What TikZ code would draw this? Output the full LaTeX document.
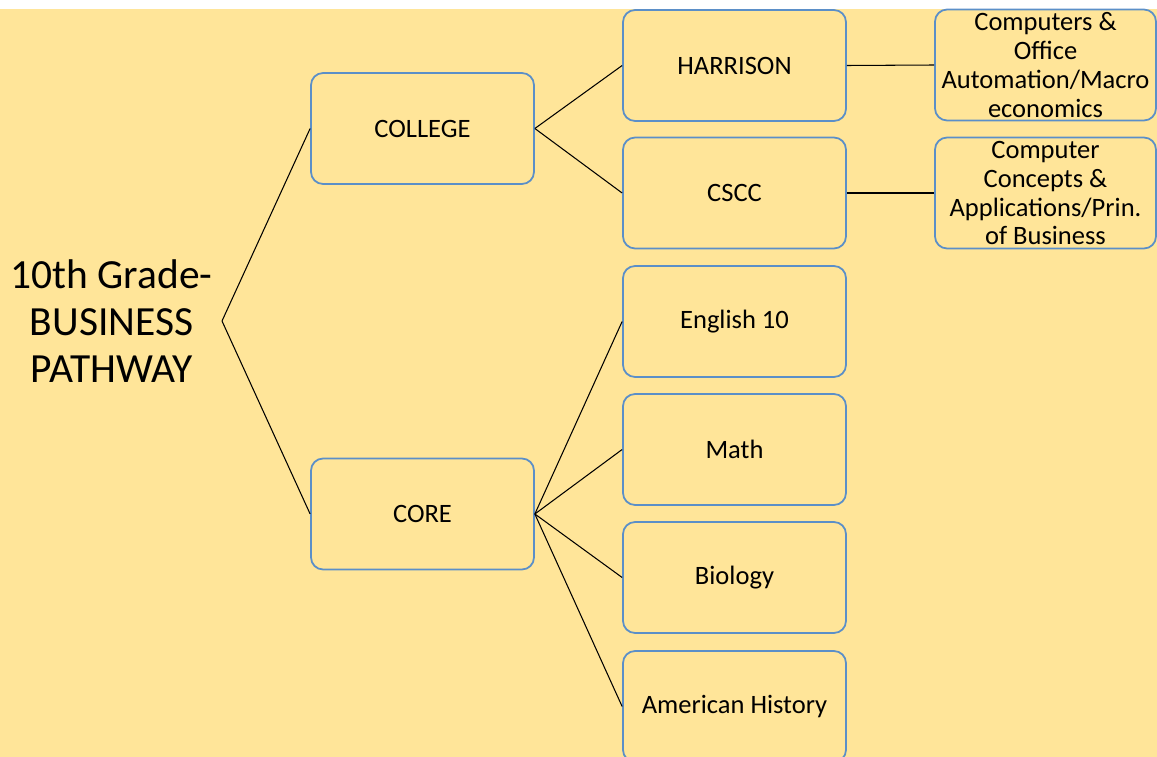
\documentclass[tikz,border=0pt]{standalone}
\usepackage{fontspec}
\setmainfont{Carlito}
\usepackage{tikz}
\definecolor{hintergrund}{HTML}{FFE599}
\definecolor{rahmen}{HTML}{5B8FC8}

\begin{document}
\begin{tikzpicture}[x=0.02cm, y=-0.02cm, line width=0.6pt,
    feld/.style={draw=rahmen, line width=1pt, fill=hintergrund, rounded corners=0.24cm,
        minimum width=4.46cm, minimum height=2.22cm, inner sep=0pt, align=center,
        font=\fontsize{15.1}{17.5}\selectfont},
    kurs/.style={feld, minimum width=4.42cm, font=\fontsize{15.1}{16.5}\selectfont},
    wurzel/.style={align=center, inner xsep=0.18cm, font=\fontsize{23.6}{26.7}\selectfont}]
    \useasboundingbox (0,0) rectangle (1157,757);

    % Hintergrund.
    \fill[hintergrund] (0,9) rectangle (1157,757);

    % Knoten.
    \node[wurzel, anchor=east] (pfad) at (222,321) {10th Grade-\\BUSINESS\\PATHWAY};

    \node[feld] (college) at (422.5,128.5) {COLLEGE};
    \node[feld] (core) at (422.5,514) {CORE};

    \node[feld] (harrison) at (734.5,65.5) {HARRISON};
    \node[feld] (cscc) at (734.5,193) {CSCC};
    \node[feld] (englisch) at (734.5,321.5) {English 10};
    \node[feld] (mathe) at (734.5,449.5) {Math};
    \node[feld] (bio) at (734.5,577.5) {Biology};
    \node[feld] (geschichte) at (734.5,706.5) {American History};

    \node[kurs] (buero) at (1045.5,65) {Computers \&\\Office\\Automation/Macro\\economics};
    \node[kurs] (konzepte) at (1045.5,193) {Computer\\Concepts \&\\Applications/Prin.\\of Business};

    % Linien.
    \draw (pfad.east) -- (college.west);
    \draw (pfad.east) -- (core.west);
    \foreach \k in {harrison, cscc}
    {
        \draw (college.east) -- (\k.west);
    }
    \foreach \k in {englisch, mathe, bio, geschichte}
    {
        \draw (core.east) -- (\k.west);
    }
    \draw (harrison.east) -- (buero.west);
    \draw (cscc.east) -- (konzepte.west);
\end{tikzpicture}
\end{document}
